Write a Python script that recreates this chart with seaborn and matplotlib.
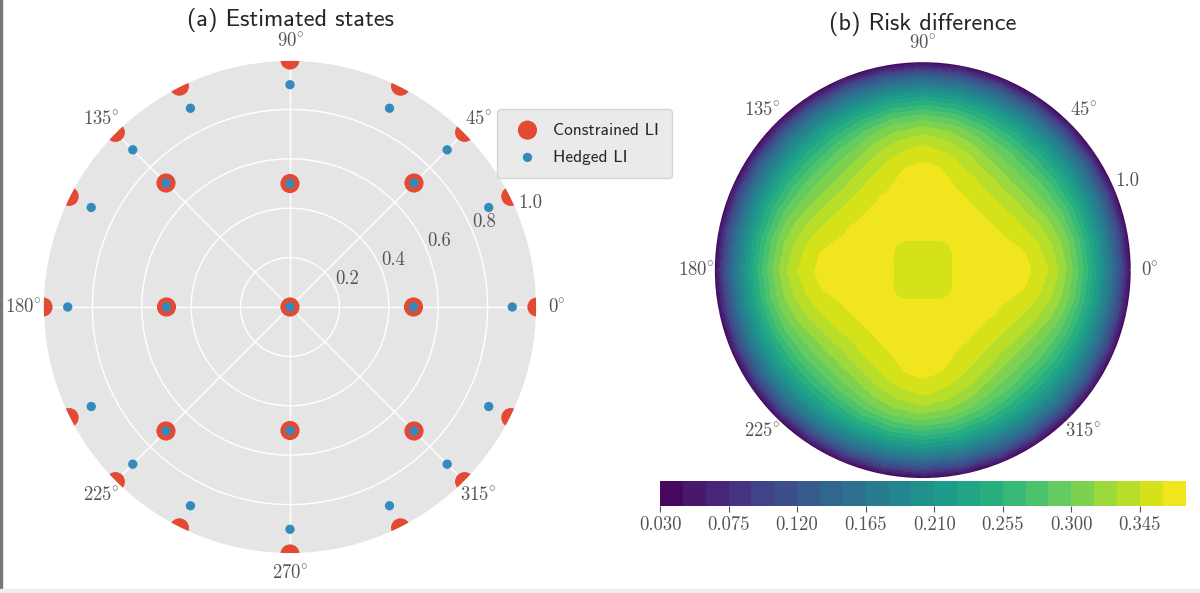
import numpy as np
import matplotlib
matplotlib.use("Agg")
import matplotlib.pyplot as plt
from matplotlib.patches import Rectangle
import seaborn as sns

# (a) estimated states: angle (deg) and radius of each point
constrained_theta = [0, 26.6, 45, 63.4, 90, 116.6, 135, 153.4,
                     180, 206.6, 225, 243.4, 270, 296.6, 315, 333.4,
                     0, 45, 90, 135, 180, 225, 270, 315, 0]
constrained_r = [1.0] * 16 + [0.5, 0.71, 0.5, 0.71, 0.5, 0.71, 0.5, 0.71, 0.0]

hedged_theta = [0, 26.6, 45, 63.4, 90, 116.6, 135, 153.4,
                180, 206.6, 225, 243.4, 270, 296.6, 315, 333.4,
                0, 45, 90, 135, 180, 225, 270, 315, 0]
hedged_r = [0.90] * 16 + [0.5, 0.71, 0.5, 0.71, 0.5, 0.71, 0.5, 0.71, 0.0]

# (b) risk difference read along rays at 0, 11.25, 22.5, 33.75 and 45 deg
# (the picture is symmetric about the axes and the diagonals)
radii = [0.0, 0.1, 0.15, 0.2, 0.3, 0.4, 0.5, 0.55, 0.6, 0.65,
         0.7, 0.75, 0.8, 0.85, 0.9, 0.95, 1.0]
risk_0 = [0.355, 0.358, 0.3605, 0.363, 0.368, 0.369, 0.3625, 0.3555, 0.345, 0.330,
          0.310, 0.282, 0.249, 0.210, 0.165, 0.109, 0.032]
risk_11 = [0.355, 0.3578, 0.3603, 0.3625, 0.3665, 0.3665, 0.359, 0.350, 0.338, 0.324,
           0.305, 0.278, 0.246, 0.207, 0.163, 0.108, 0.032]
risk_22 = [0.355, 0.357, 0.3598, 0.3618, 0.3645, 0.3625, 0.350, 0.340, 0.328, 0.313,
           0.295, 0.270, 0.240, 0.203, 0.161, 0.107, 0.032]
risk_34 = [0.355, 0.3565, 0.3593, 0.3613, 0.3635, 0.3598, 0.344, 0.332, 0.318, 0.303,
           0.286, 0.263, 0.236, 0.201, 0.160, 0.106, 0.032]
risk_45 = [0.355, 0.356, 0.359, 0.361, 0.363, 0.3595, 0.342, 0.328, 0.314, 0.299,
           0.282, 0.260, 0.234, 0.200, 0.160, 0.106, 0.032]
cbar_ticks = [0.030, 0.075, 0.120, 0.165, 0.210, 0.255, 0.300, 0.345]

theta_ticks = [0, 45, 90, 135, 180, 225, 270, 315]
r_ticks = [0.2, 0.4, 0.6, 0.8, 1.0]

sns.set_theme(style="darkgrid", rc={
    "axes.facecolor": "#E5E5E5",
    "grid.color": "white",
    "axes.edgecolor": "white",
    "mathtext.fontset": "cm",
})
plt.rcParams["font.family"] = ["cmss10", "DejaVu Sans"]
serif = ["cmr10", "DejaVu Serif"]
theta_labels = [rf"${t}\!^\circ$" for t in theta_ticks]

red = "#E24A33"
blue = "#348ABD"
grey = "#555555"

fig = plt.figure(figsize=(12, 5.93), dpi=100)
ax1 = fig.add_axes([0.0358, 0.0658, 0.4117, 0.833], projection="polar")
ax2 = fig.add_axes([0.595, 0.192, 0.348, 0.705], projection="polar")
cax = fig.add_axes([0.55, 0.1465, 0.438, 0.042])

# left: scatter of the two estimators
sns.scatterplot(x=np.deg2rad(constrained_theta), y=constrained_r, ax=ax1,
                s=190, color=red, edgecolor="none", label="Constrained LI", zorder=2)
sns.scatterplot(x=np.deg2rad(hedged_theta), y=hedged_r, ax=ax1,
                s=45, color=blue, edgecolor="none", label="Hedged LI", zorder=2)
ax1.set_xlabel("")
ax1.set_ylabel("")
ax1.set_ylim(0, 1.0)
ax1.set_thetagrids(theta_ticks, labels=theta_labels)
ax1.set_rgrids(r_ticks, labels=[f"{v}" for v in r_ticks], angle=22.5)
ax1.tick_params(axis="both", labelsize=13.5, labelcolor=grey, pad=1)
for lab in ax1.get_yticklabels():
    lab.set_family(serif)
ax1.set_title("(a) Estimated states", fontsize=17.5, y=1.068, pad=0)
ax1.legend(loc="upper left", bbox_to_anchor=(0.407, 0.83), bbox_transform=fig.transFigure,
           fontsize=12.5, frameon=True, facecolor="#E5E5E5", edgecolor="#CCCCCC",
           borderpad=0.75, labelspacing=0.7, handletextpad=0.45)

# right: filled contour of the risk difference
profiles = [risk_0, risk_11, risk_22, risk_34, risk_45]
angles = np.arange(0, 361, 11.25)
columns = []
for k in range(len(angles)):
    m = k % 8
    columns.append(profiles[m] if m <= 4 else profiles[8 - m])
Z = np.array(columns)
T, R = np.meshgrid(np.deg2rad(angles), radii, indexing="ij")
levels = np.linspace(0.03, 0.375, 24)
cs = ax2.contourf(T, R, Z, levels=levels, cmap="viridis")
ax2.set_ylim(0, 1.0)
ax2.grid(False)
ax2.set_facecolor("white")
ax2.set_thetagrids(theta_ticks, labels=theta_labels)
ax2.set_rgrids(r_ticks, labels=[f"{v}" for v in r_ticks], angle=22.5)
ax2.tick_params(axis="both", labelsize=13.5, labelcolor=grey, pad=0)
for lab in ax2.get_yticklabels():
    lab.set_family(serif)
ax2.set_title("(b) Risk difference", fontsize=17.5, y=1.076, pad=0)

cb = fig.colorbar(cs, cax=cax, orientation="horizontal", ticks=cbar_ticks)
cb.outline.set_visible(False)
cb.ax.set_xticklabels([f"{v:.3f}" for v in cbar_ticks], family=serif)
cb.ax.tick_params(labelsize=13.5, labelcolor=grey, length=4, color=grey, width=0.8)

# screenshot frame: thin line on the left, light strip at the bottom
fig.add_artist(Rectangle((0, 0), 0.0015, 1, transform=fig.transFigure, color="#777777"))
fig.add_artist(Rectangle((0, 0), 1, 0.006, transform=fig.transFigure, color="#EEEEEE"))

fig.savefig("out.png", dpi=100, facecolor="white")
